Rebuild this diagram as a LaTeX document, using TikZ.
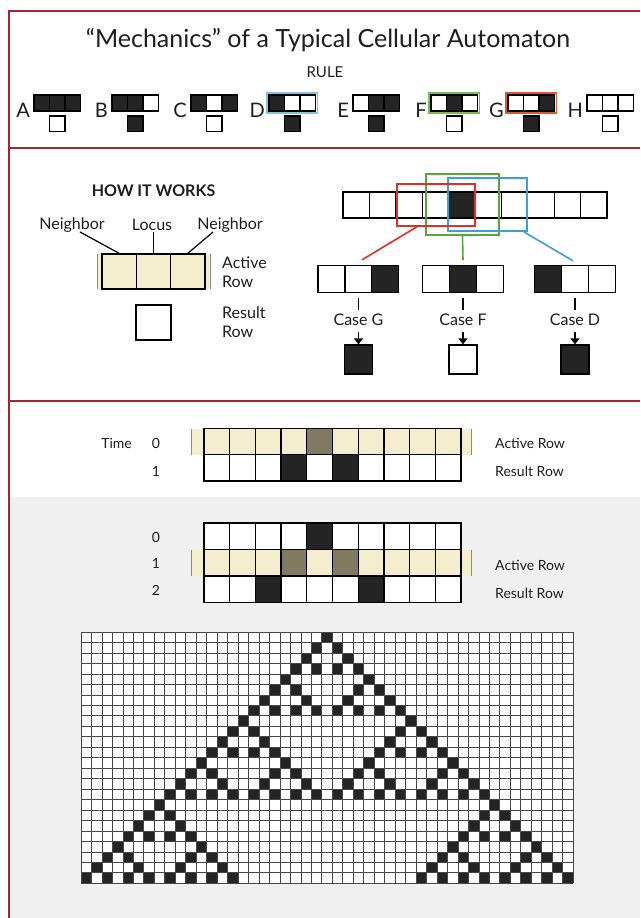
\documentclass[tikz,border=0pt]{standalone}
\usepackage{fontspec}
\setmainfont{Lato}
\usetikzlibrary{arrows.meta,calc}
\definecolor{framered}{RGB}{168,36,50}
\definecolor{cellk}{RGB}{36,36,36}
\definecolor{cream}{RGB}{244,238,206}
\definecolor{shade}{RGB}{128,122,96}
\definecolor{cblue}{RGB}{60,160,215}
\definecolor{cgreen}{RGB}{88,165,60}
\definecolor{cred}{RGB}{222,48,36}
\definecolor{dblue}{RGB}{130,196,222}
\definecolor{fgreen}{RGB}{120,190,75}
\definecolor{gorange}{RGB}{222,88,44}
\definecolor{txt}{RGB}{30,30,30}
\definecolor{bggray}{RGB}{240,240,240}
\colorlet{K}{cellk}
\colorlet{W}{white}
\colorlet{S}{shade}
\colorlet{C}{cream}
\tikzset{
  cl/.style={draw=black, line width=1.3pt},
  frameline/.style={draw=framered, line width=2pt},
  title/.style={font=\fontsize{25}{29}\selectfont, text=txt, inner sep=0pt},
  rulelbl/.style={font=\fontsize{20}{24}\selectfont, text=txt, inner sep=0pt},
  lbl/.style={font=\fontsize{16}{19}\selectfont, text=txt, inner sep=0pt},
  lblsm/.style={font=\fontsize{14}{16}\selectfont, text=txt, inner sep=0pt},
  box/.style={line width=1.6pt, inner sep=0pt, fill=none},
  conn/.style={line width=1.6pt},
  arr/.style={line width=1.8pt, -{Triangle[width=9pt,length=6pt]}},
  gridl/.style={draw=black!72, line width=0.65pt},
  bandl/.style={draw=black!45, line width=0.5pt}
}
% x position, letter, three top colours, result colour
\newcommand\RuleIcon[6]{%
  \node[rulelbl, anchor=east] (lab#2) at ({#1-4},110.5) {#2};
  \draw[cl, fill=#3] (#1,95) rectangle ++(15.5,16);
  \draw[cl, fill=#4] ({#1+15.5},95) rectangle ++(15.5,16);
  \draw[cl, fill=#5] ({#1+31},95) rectangle ++(15.5,16);
  \draw[cl, fill=#6] ({#1+15.5},116) rectangle ++(15.5,15.5);
}
\begin{document}
\begin{tikzpicture}[x=1pt,y=-1pt]
\useasboundingbox (0,0) rectangle (640,918);
\fill[white] (0,0) rectangle (640,918);
\fill[bggray] (10,497) rectangle (640,918);

% frame
\draw[frameline] (9,918) -- (9,10.5) -- (640,10.5);
\draw[frameline] (9,148) -- (640,148);
\draw[frameline] (9,401) -- (640,401);

% ---------- RULE section ----------
\node[title] (title) at (328,40) {“Mechanics” of a Typical Cellular Automaton};
\node[font=\fontsize{15}{17}\selectfont, text=txt, inner sep=0pt] (rule) at (325,72) {RULE};
\RuleIcon{34}{A}{K}{K}{K}{W}
\RuleIcon{112}{B}{K}{K}{W}{K}
\RuleIcon{191}{C}{K}{W}{K}{W}
\RuleIcon{269}{D}{K}{W}{W}{K}
\RuleIcon{353}{E}{W}{K}{K}{K}
\RuleIcon{431}{F}{W}{K}{W}{W}
\RuleIcon{508}{G}{W}{W}{K}{K}
\RuleIcon{587}{H}{W}{W}{W}{W}
\draw[box, draw=dblue] (267,93) rectangle (317.5,113);
\draw[box, draw=fgreen] (429,93) rectangle (479.5,113);
\draw[box, draw=gorange] (506,93) rectangle (556.5,113);

% ---------- HOW IT WORKS ----------
\node[font=\fontsize{16}{19}\selectfont\bfseries, text=txt, inner sep=0pt] (how) at (153.5,191) {HOW IT WORKS};
\node[lbl] (nl) at (72,225) {Neighbor};
\node[lbl] (loc) at (152,225) {Locus};
\node[lbl] (nr) at (230,225) {Neighbor};
\fill[cream] (97,254) rectangle (210,289);
\draw[bandl] (97,254) -- (97,289) (210,254) -- (210,289);
\node[cl, minimum width=34.33pt, minimum height=35pt, inner sep=0pt] (a1) at (119.17,271.5) {};
\node[cl, minimum width=34.33pt, minimum height=35pt, inner sep=0pt] (a2) at (153.5,271.5) {};
\node[cl, minimum width=34.33pt, minimum height=35pt, inner sep=0pt] (a3) at (187.83,271.5) {};
\coordinate (nlend) at (80,232);
\coordinate (locend) at (153.5,232);
\coordinate (nrend) at (213,232);
\draw[line width=1.2pt] (nlend) -- (a1.north);
\draw[line width=1.2pt] (locend) -- (a2.north);
\draw[line width=1.2pt] (nrend) -- (a3.north);
\node[lbl, anchor=west, align=left] (act) at (222,272) {Active\\Row};
\node[cl, minimum width=35pt, minimum height=35pt, inner sep=0pt] (res) at (153.5,322.5) {};
\node[lbl, anchor=west, align=left] (resl) at (222,322) {Result\\Row};

% row of ten cells
\foreach \i in {0,...,9} \draw[cl] ({343+\i*26.4},192) rectangle ++(26.4,26);
\draw[cl, fill=cellk] ({343+4*26.4},192) rectangle ++(26.4,26);
\node[box, draw=cgreen, minimum width=73pt, minimum height=61pt] (boxF) at (462.5,204.5) {};
\node[box, draw=cblue, minimum width=79pt, minimum height=53pt] (boxD) at (487.5,204.5) {};
\node[box, draw=cred, minimum width=78pt, minimum height=42pt] (boxG) at (436,205) {};

% triples
\node[minimum width=80.7pt, minimum height=27pt, inner sep=0pt] (tG) at (358.5,279.5) {};
\node[minimum width=80.7pt, minimum height=27pt, inner sep=0pt] (tF) at (463,279.5) {};
\node[minimum width=80.7pt, minimum height=27pt, inner sep=0pt] (tD) at (575,279.5) {};
\foreach \n/\a/\b/\c in {tG/W/W/K, tF/W/K/W, tD/K/W/W}{
  \draw[cl, fill=\a] (\n.north west) rectangle ++(26.9,27);
  \draw[cl, fill=\b] ($(\n.north west)+(26.9,0)$) rectangle ++(26.9,27);
  \draw[cl, fill=\c] ($(\n.north west)+(53.8,0)$) rectangle ++(26.9,27);
}
\draw[conn, cred] ($(boxG.south west)!0.26!(boxG.south east)$) -- ($(tG.north)+(3.5,-6)$);
\draw[conn, cgreen] (boxF.south) -- ($(tF.north)+(0,-6)$);
\draw[conn, cblue] ($(boxD.south west)!0.95!(boxD.south east)$) -- ($(tD.north)+(-2,-5)$);

\foreach \n/\t/\f/\x in {G/Case G/K/358.5, F/Case F/W/463, D/Case D/K/575}{
  \node[lbl] (c\n) at (\x,320) {\t};
  \node[cl, fill=\f, minimum width=28pt, minimum height=29pt, inner sep=0pt] (r\n) at (\x,359.5) {};
  \draw[line width=1.8pt] ($(t\n.south)+(0,5)$) -- ($(t\n.south)+(0,17)$);
  \draw[arr] (\x,332) -- (r\n.north);
}

% ---------- time rows ----------
\node[lblsm, anchor=east] (time) at (132,443) {Time};
\node[lblsm] (t0) at (156,443) {0};
\node[lblsm] (t1) at (156,471) {1};
\fill[cream] (191,428.5) rectangle (471,454.5);
\draw[bandl] (191,428.5) -- (191,454.5) (471,428.5) -- (471,454.5);
\foreach \i/\f in {0/C,1/C,2/C,3/C,4/S,5/C,6/C,7/C,8/C,9/C}
  \draw[cl, fill=\f] ({204+\i*25.7},428.5) rectangle ++(25.7,26);
\foreach \i/\f in {0/W,1/W,2/W,3/K,4/W,5/K,6/W,7/W,8/W,9/W}
  \draw[cl, fill=\f] ({204+\i*25.7},454.5) rectangle ++(25.7,26.5);
\node[lblsm, anchor=west] (ar1) at (495,443) {Active Row};
\node[lblsm, anchor=west] (rr1) at (495,471) {Result Row};

\node[lblsm] (u0) at (156,537) {0};
\node[lblsm] (u1) at (156,563.5) {1};
\node[lblsm] (u2) at (156,590) {2};
\fill[cream] (191,549.5) rectangle (471,576);
\draw[bandl] (191,549.5) -- (191,576) (471,549.5) -- (471,576);
\foreach \i/\f in {0/W,1/W,2/W,3/W,4/K,5/W,6/W,7/W,8/W,9/W}
  \draw[cl, fill=\f] ({204+\i*25.7},523) rectangle ++(25.7,26.5);
\foreach \i/\f in {0/C,1/C,2/C,3/S,4/C,5/S,6/C,7/C,8/C,9/C}
  \draw[cl, fill=\f] ({204+\i*25.7},549.5) rectangle ++(25.7,26.5);
\foreach \i/\f in {0/W,1/W,2/K,3/W,4/W,5/W,6/K,7/W,8/W,9/W}
  \draw[cl, fill=\f] ({204+\i*25.7},576) rectangle ++(25.7,26.5);
\node[lblsm, anchor=west] (ar2) at (495,565) {Active Row};
\node[lblsm, anchor=west] (rr2) at (495,593) {Result Row};

% ---------- big grid (rule 90) ----------
\fill[white] (81,632) rectangle ({81+47*10.47},{632+24*10.47});
\foreach \r/\cs in {0/{23},1/{22,24},2/{21,25},3/{20,22,24,26},4/{19,27},
  5/{18,20,26,28},6/{17,21,25,29},7/{16,18,20,22,24,26,28,30},8/{15,31},
  9/{14,16,30,32},10/{13,17,29,33},11/{12,14,16,18,28,30,32,34},
  12/{11,19,27,35},13/{10,12,18,20,26,28,34,36},14/{9,13,17,21,25,29,33,37},
  15/{8,10,12,14,16,18,20,22,24,26,28,30,32,34,36,38},16/{7,39},
  17/{6,8,38,40},18/{5,9,37,41},19/{4,6,8,10,36,38,40,42},20/{3,11,35,43},
  21/{2,4,10,12,34,36,42,44},22/{1,5,9,13,33,37,41,45},
  23/{0,2,4,6,8,10,12,14,32,34,36,38,40,42,44,46}}{
  \foreach \c in \cs {
    \fill[cellk] ({81+\c*10.47},{632+\r*10.47}) rectangle ++(10.47,10.47);
  }
}
\foreach \i in {0,...,47} \draw[gridl] ({81+\i*10.47},632) -- ++(0,{24*10.47});
\foreach \j in {0,...,24} \draw[gridl] (81,{632+\j*10.47}) -- ++({47*10.47},0);
\end{tikzpicture}
\end{document}
